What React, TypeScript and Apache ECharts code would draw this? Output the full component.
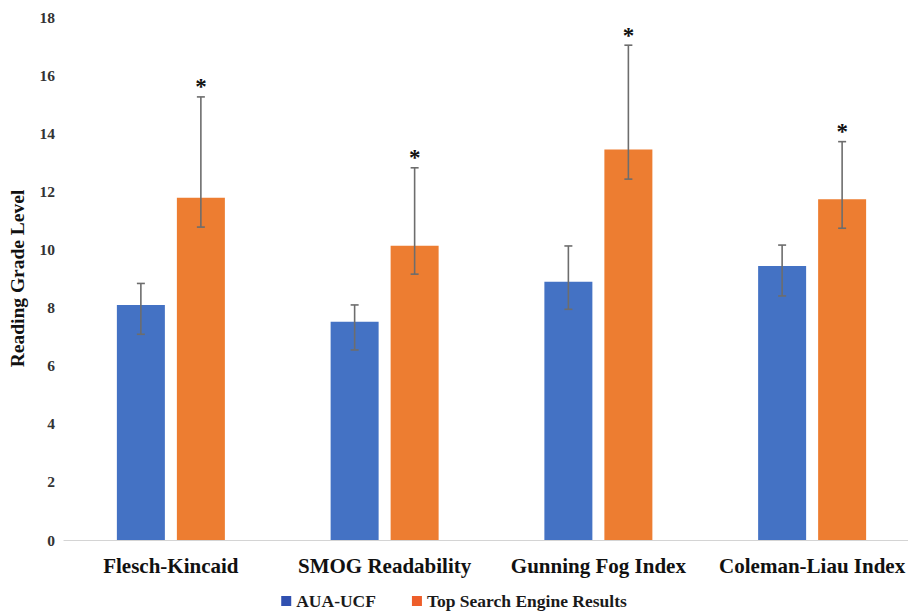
import React, { useEffect, useRef } from "react";
import * as echarts from "echarts";

const categories = ["Flesch-Kincaid", "SMOG Readability", "Gunning Fog Index", "Coleman-Liau Index"];
const seriesNames = ["AUA-UCF", "Top Search Engine Results"];
const auaMean = [8.09, 7.51, 8.89, 9.43];
const auaLow = [7.08, 6.54, 7.94, 8.4];
const auaHigh = [8.83, 8.09, 10.12, 10.15];
const topMean = [11.78, 10.13, 13.44, 11.73];
const topLow = [10.77, 9.15, 12.42, 10.73];
const topHigh = [15.25, 12.81, 17.03, 13.71];
const topSignificance = ["*", "*", "*", "*"];
const auaSignificance = ["", "", "", ""];

const FONT = "'Liberation Serif', 'Times New Roman', 'DejaVu Serif', serif";
const BLUE = "#4472C4";
const ORANGE = "#ED7D31";

function errorSeries(low: number[], high: number[], marks: string[], offset: number) {
  return {
    type: "custom",
    silent: true,
    z: 10,
    data: low.map((l, i) => [i, l, high[i], marks[i]]),
    renderItem: (params: any, api: any) => {
      const i = api.value(0);
      const top = api.coord([i, api.value(2)]);
      const bot = api.coord([i, api.value(1)]);
      const x = top[0] + offset;
      const cap = 4;
      const style = { stroke: "#6d6d6d", lineWidth: 1.6 };
      const mark = marks[params.dataIndex];
      const children: any[] = [
        { type: "line", shape: { x1: x, y1: top[1], x2: x, y2: bot[1] }, style },
        { type: "line", shape: { x1: x - cap, y1: top[1], x2: x + cap, y2: top[1] }, style },
        { type: "line", shape: { x1: x - cap, y1: bot[1], x2: x + cap, y2: bot[1] }, style },
      ];
      if (mark) {
        children.push({
          type: "text",
          x: x,
          y: top[1] - 10,
          style: {
            text: mark,
            fill: "#111",
            font: `bold 23px ${FONT}`,
            textAlign: "center",
            textVerticalAlign: "middle",
          },
        });
      }
      return { type: "group", children };
    },
  };
}

export default function App() {
  const ref = useRef<HTMLDivElement>(null);
  useEffect(() => {
    if (!ref.current) return;
    const chart = echarts.init(ref.current, null, { renderer: "svg" });
    chart.setOption({
      animation: false,
      backgroundColor: "#ffffff",
      grid: { left: 64, right: -11, top: 17, bottom: 72, containLabel: false, outerBoundsMode: "none" },
      legend: {
        left: "center",
        top: 587,
        icon: "rect",
        itemWidth: 10,
        itemHeight: 10,
        itemGap: 36,
        textStyle: { fontFamily: FONT, fontWeight: "bold", fontSize: 17.5, color: "#1a1a1a" },
        data: [
          { name: seriesNames[0], itemStyle: { color: "#3050B0" } },
          { name: seriesNames[1], itemStyle: { color: "#EE5E2A" } },
        ],
      },
      xAxis: {
        type: "category",
        data: categories,
        axisLine: { show: true, lineStyle: { color: "#d4d4d4", width: 1.2 } },
        axisTick: { show: false },
        axisLabel: {
          margin: 15,
          fontFamily: FONT,
          fontWeight: "bold",
          fontSize: 21,
          color: "#111",
          interval: 0,
        },
      },
      yAxis: {
        type: "value",
        min: 0,
        max: 18,
        interval: 2,
        name: "Reading Grade Level",
        nameLocation: "middle",
        nameGap: 37,
        nameTextStyle: { fontFamily: FONT, fontWeight: "bold", fontSize: 19.5, color: "#111" },
        splitLine: { show: false },
        axisLine: { show: false },
        axisTick: { show: false },
        axisLabel: { margin: 9, fontFamily: FONT, fontWeight: "bold", fontSize: 15.5, color: "#333" },
      },
      series: [
        {
          name: seriesNames[0],
          type: "bar",
          data: auaMean,
          barWidth: 48,
          barGap: "25%",
          itemStyle: { color: BLUE },
        },
        {
          name: seriesNames[1],
          type: "bar",
          data: topMean,
          barWidth: 48,
          barGap: "25%",
          itemStyle: { color: ORANGE },
        },
        errorSeries(auaLow, auaHigh, auaSignificance, -30),
        errorSeries(topLow, topHigh, topSignificance, 30),
      ],
    });
    return () => chart.dispose();
  }, []);
  return <div ref={ref} style={{ position: "fixed", left: 0, top: 0, width: 908, height: 612 }} />;
}
